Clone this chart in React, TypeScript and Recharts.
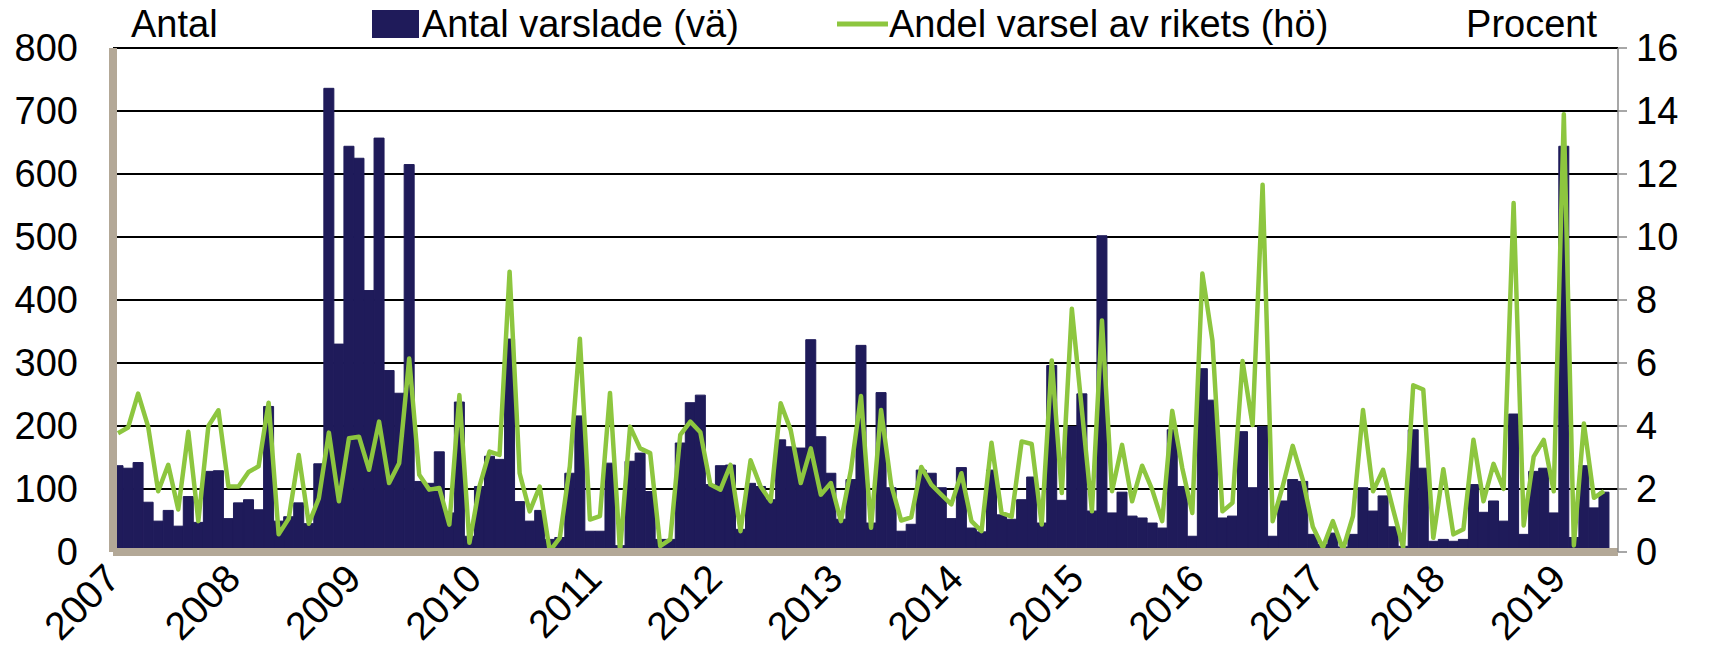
import React from 'react';
import {
  ComposedChart,
  Bar,
  Line,
  XAxis,
  YAxis,
  CartesianGrid,
} from 'recharts';

// tick labels
const years = ['2007', '2008', '2009', '2010', '2011', '2012', '2013', '2014', '2015', '2016', '2017', '2018', '2019'];
const leftTicks = [0, 100, 200, 300, 400, 500, 600, 700, 800];
const rightTicks = [0, 2, 4, 6, 8, 10, 12, 14, 16];

// Antal varslade per månad (vänster axel), jan 2007 - maj 2019
const counts = [
  137, 133, 142, 79, 49, 66, 41, 88, 47, 128, 129, 53,
  78, 83, 67, 231, 49, 56, 78, 45, 140, 736, 330, 644,
  625, 415, 657, 288, 252, 615, 112, 109, 159, 62, 238, 25,
  104, 152, 147, 338, 80, 49, 66, 20, 23, 125, 216, 33,
  33, 141, 10, 144, 157, 96, 20, 20, 173, 237, 249, 107,
  137, 138, 36, 109, 104, 83, 178, 167, 165, 337, 183, 125,
  52, 115, 328, 46, 253, 102, 33, 44, 130, 125, 102, 53,
  134, 38, 32, 130, 59, 52, 83, 119, 46, 296, 82, 199,
  251, 65, 502, 62, 95, 57, 54, 46, 38, 194, 104, 25,
  291, 241, 54, 57, 191, 102, 199, 25, 81, 115, 112, 28,
  12, 30, 8, 28, 102, 65, 89, 40, 9, 194, 133, 17,
  20, 17, 20, 107, 63, 81, 49, 219, 28, 128, 133, 62,
  644, 23, 137, 70, 95,
];

// Andel varsel av rikets, procent (höger axel)
const shares = [
  3.77, 3.95, 5.03, 3.98, 1.93, 2.77, 1.35, 3.82, 0.98, 4.0, 4.5, 2.08,
  2.08, 2.54, 2.72, 4.74, 0.56, 1.06, 3.08, 0.9, 1.7, 3.79, 1.61, 3.61,
  3.66, 2.61, 4.14, 2.19, 2.82, 6.14, 2.45, 1.98, 2.03, 0.87, 4.98, 0.29,
  2.08, 3.19, 3.08, 8.9, 2.5, 1.29, 2.08, 0.03, 0.45, 2.72, 6.77, 1.03,
  1.14, 5.05, 0.03, 3.98, 3.29, 3.14, 0.19, 0.4, 3.72, 4.14, 3.8, 2.14,
  1.98, 2.77, 0.66, 2.91, 2.08, 1.61, 4.72, 3.87, 2.19, 3.29, 1.82, 2.19,
  0.98, 2.61, 4.95, 0.77, 4.51, 2.14, 1.0, 1.1, 2.7, 2.14, 1.82, 1.51,
  2.5, 0.98, 0.66, 3.47, 1.24, 1.12, 3.51, 3.43, 0.87, 6.08, 1.87, 7.72,
  4.5, 1.29, 7.35, 1.93, 3.4, 1.61, 2.74, 1.98, 0.98, 4.48, 2.66, 1.24,
  8.84, 6.72, 1.29, 1.56, 6.06, 4.03, 11.66, 0.98, 2.08, 3.37, 2.3, 0.8,
  0.14, 0.98, 0.08, 1.14, 4.51, 1.93, 2.61, 1.35, 0.14, 5.29, 5.16, 0.45,
  2.63, 0.56, 0.72, 3.56, 1.61, 2.8, 2.0, 11.08, 0.84, 3.03, 3.56, 1.93,
  13.9, 0.21, 4.08, 1.72, 1.93,
];

// one category per month, "2007-01" ...
const months = counts.map((_, i) => {
  const y = years[Math.floor(i / 12)];
  const m = String((i % 12) + 1).padStart(2, '0');
  return `${y}-${m}`;
});
const yearTicks = years.map((y) => `${y}-01`);

const data = months.map((month, i) => ({
  month,
  antal: counts[i],
  andel: shares[i],
}));

const NAVY = '#1f1b5a';
const GREEN = '#8dc63f';
const WALL = '#b3a897';
const FONT = '"Liberation Sans", Arial, sans-serif';

const YearTick = ({ x, payload }: any) => {
  const ax = x + 4;
  const ay = 581;
  return (
    <text
      x={ax}
      y={ay}
      transform={`rotate(-45 ${ax} ${ay})`}
      textAnchor="end"
      fontSize={39}
      fontFamily={FONT}
      fill="#000"
    >
      {payload.value.slice(0, 4)}
    </text>
  );
};

const LeftTick = ({ y, payload }: any) => (
  <text x={78} y={y} dy={13} textAnchor="end" fontSize={38} fontFamily={FONT} fill="#000">
    {payload.value}
  </text>
);

const RightTick = ({ y, payload }: any) => (
  <text x={1636} y={y} dy={13} textAnchor="start" fontSize={38} fontFamily={FONT} fill="#000">
    {payload.value}
  </text>
);

export default function App() {
  return (
    <div style={{ position: 'absolute', left: 0, top: 0, width: 1709, height: 664, background: '#fff' }}>
      <ComposedChart
        width={1709}
        height={664}
        data={data}
        margin={{ top: 48, right: 6, left: 8, bottom: 12 }}
        barCategoryGap={0}
        barGap={0}
      >
        <CartesianGrid vertical={false} stroke="#000" strokeWidth={2} />
        <XAxis
          dataKey="month"
          ticks={yearTicks}
          interval={0}
          height={100}
          padding={{ left: 0, right: 9 }}
          tick={<YearTick />}
          tickLine={false}
          tickSize={0}
          axisLine={{ stroke: WALL, strokeWidth: 8 }}
        />
        <YAxis
          domain={[0, 800]}
          ticks={leftTicks}
          width={105}
          tick={<LeftTick />}
          tickLine={false}
          axisLine={{ stroke: WALL, strokeWidth: 8 }}
        />
        <YAxis
          yAxisId="right"
          orientation="right"
          domain={[0, 16]}
          ticks={rightTicks}
          width={85}
          tick={<RightTick />}
          tickSize={9}
          tickLine={{ stroke: '#8a8a8a', strokeWidth: 1.5 }}
          axisLine={{ stroke: '#8a8a8a', strokeWidth: 1.5 }}
        />
        <Bar dataKey="antal" fill={NAVY} stroke={NAVY} strokeWidth={1} isAnimationActive={false} />
        <Line
          yAxisId="right"
          type="linear"
          dataKey="andel"
          stroke={GREEN}
          strokeWidth={4.5}
          strokeLinejoin="round"
          dot={false}
          activeDot={false}
          isAnimationActive={false}
        />
      </ComposedChart>

      {/* header: axis titles and legend */}
      <svg width={1709} height={48} style={{ position: 'absolute', left: 0, top: 0 }}>
        <g fontFamily={FONT} fontSize={38} fill="#000">
          <text x={131} y={37}>Antal</text>
          <rect x={372} y={10} width={47} height={28} fill={NAVY} />
          <text x={422} y={37}>Antal varslade (vä)</text>
          <line x1={837} y1={24} x2={888} y2={24} stroke={GREEN} strokeWidth={5} />
          <text x={889} y={37}>Andel varsel av rikets (hö)</text>
          <text x={1597} y={37} textAnchor="end">Procent</text>
        </g>
      </svg>
    </div>
  );
}
